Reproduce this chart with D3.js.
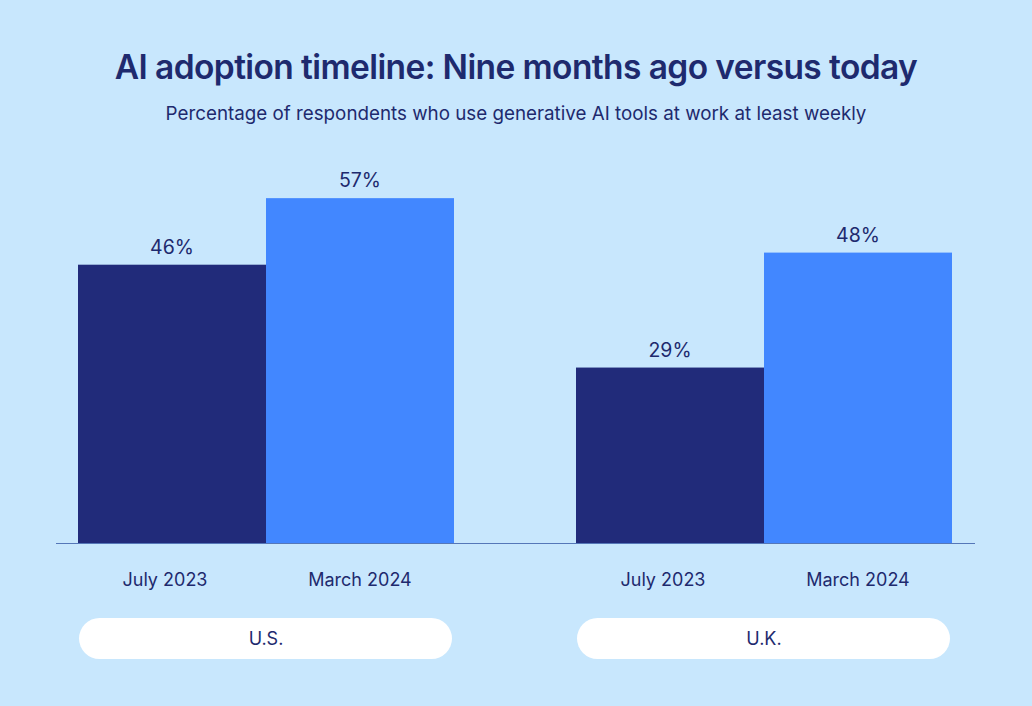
<!DOCTYPE html>
<html>
<head>
<meta charset="utf-8">
<script src="https://cdn.jsdelivr.net/npm/d3@7"></script>
<style>
  html, body { margin: 0; padding: 0; background: #c8e7fd; }
  svg { display: block; }
  text { font-family: Inter, "Noto Sans", sans-serif; fill: #1e2a6e; }
</style>
</head>
<body>
<svg id="chart"></svg>
<script>
const countries = ['U.S.', 'U.K.'];
const periods = ['July 2023', 'March 2024'];
const usValues = [46, 57];
const ukValues = [29, 48];
const valueLabels = ['46%', '57%', '29%', '48%'];

const width = 1032;
const height = 706;
const baseline = 543;

const colors = d3.scaleOrdinal()
  .domain(periods)
  .range(['#212b7a', '#4287ff']);

const svg = d3.select('#chart')
  .attr('width', width)
  .attr('height', height);

svg.append('rect')
  .attr('width', width)
  .attr('height', height)
  .attr('fill', '#c8e7fd');

svg.append('text')
  .attr('x', 516)
  .attr('y', 79)
  .attr('text-anchor', 'middle')
  .style('font-size', '33.5px')
  .style('font-weight', 600)
  .style('letter-spacing', '-0.6px')
  .text('AI adoption timeline: Nine months ago versus today');

svg.append('text')
  .attr('x', 516)
  .attr('y', 120)
  .attr('text-anchor', 'middle')
  .style('font-size', '18.8px')
  .text('Percentage of respondents who use generative AI tools at work at least weekly');

const x0 = d3.scaleBand()
  .domain(countries)
  .range([78, 952])
  .paddingInner(0.245)
  .paddingOuter(0);

const x1 = d3.scaleBand()
  .domain(periods)
  .range([0, x0.bandwidth()])
  .padding(0);

const y = d3.scaleLinear()
  .domain([0, 60])
  .range([baseline, baseline - 363]);

const rows = [];
countries.forEach((c, ci) => {
  const vals = ci === 0 ? usValues : ukValues;
  periods.forEach((p, pi) => {
    rows.push({ country: c, period: p, value: vals[pi], label: valueLabels[ci * 2 + pi] });
  });
});

const groups = svg.selectAll('g.country')
  .data(countries)
  .enter()
  .append('g')
  .attr('class', 'country')
  .attr('transform', d => `translate(${x0(d)},0)`);

groups.selectAll('rect.bar')
  .data(c => rows.filter(r => r.country === c))
  .enter()
  .append('rect')
  .attr('class', 'bar')
  .attr('x', d => x1(d.period))
  .attr('y', d => y(d.value))
  .attr('width', x1.bandwidth())
  .attr('height', d => baseline - y(d.value))
  .attr('fill', d => colors(d.period));

groups.selectAll('text.value')
  .data(c => rows.filter(r => r.country === c))
  .enter()
  .append('text')
  .attr('class', 'value')
  .attr('x', d => x1(d.period) + x1.bandwidth() / 2)
  .attr('y', d => y(d.value) - 11)
  .attr('text-anchor', 'middle')
  .style('font-size', '19.5px')
  .text(d => d.label);

groups.selectAll('text.period')
  .data(periods)
  .enter()
  .append('text')
  .attr('class', 'period')
  .attr('x', (d, i) => x1(d) + x1.bandwidth() / 2 - (i === 0 ? 7 : 0))
  .attr('y', 586)
  .attr('text-anchor', 'middle')
  .style('font-size', '18px')
  .text(d => d);

svg.append('line')
  .attr('x1', 56)
  .attr('x2', 975)
  .attr('y1', baseline + 0.5)
  .attr('y2', baseline + 0.5)
  .attr('stroke', '#5577b8')
  .attr('stroke-width', 1.2);

groups.append('rect')
  .attr('x', 1)
  .attr('y', 618)
  .attr('width', x0.bandwidth() - 3)
  .attr('height', 41)
  .attr('rx', 20.5)
  .attr('fill', '#ffffff');

groups.append('text')
  .attr('x', x0.bandwidth() / 2)
  .attr('y', 645)
  .attr('text-anchor', 'middle')
  .style('font-size', '18px')
  .text(d => d);
</script>
</body>
</html>
